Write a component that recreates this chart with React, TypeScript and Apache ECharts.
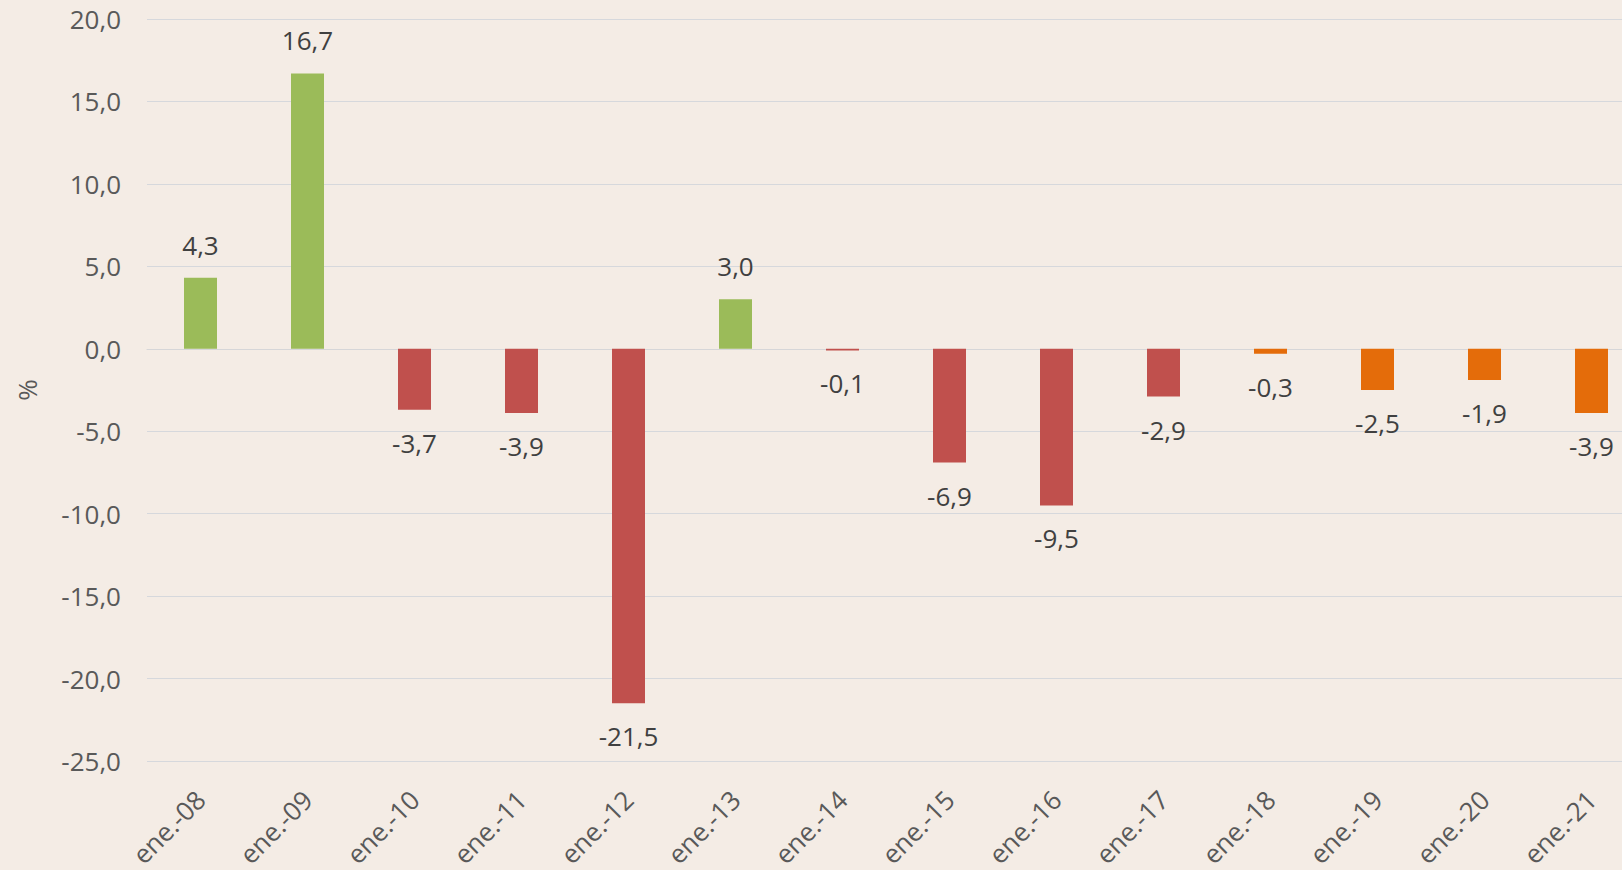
import React, { useEffect, useRef } from "react";
import * as echarts from "echarts";

const categories = ["ene.-08", "ene.-09", "ene.-10", "ene.-11", "ene.-12", "ene.-13", "ene.-14", "ene.-15", "ene.-16", "ene.-17", "ene.-18", "ene.-19", "ene.-20", "ene.-21"];
const values = [4.3, 16.7, -3.7, -3.9, -21.5, 3.0, -0.1, -6.9, -9.5, -2.9, -0.3, -2.5, -1.9, -3.9];
const colorGroups = ["g", "g", "r", "r", "r", "g", "r", "r", "r", "r", "o", "o", "o", "o"];
const yTicks = { min: -25, max: 20, interval: 5 };

const palette: Record<string, string> = { g: "#9BBB59", r: "#C0504D", o: "#E46C0A" };
const fmt = (v: number) => v.toFixed(1).replace(".", ",");

export default function App() {
  const ref = useRef<HTMLDivElement>(null);
  useEffect(() => {
    if (!ref.current) return;
    const chart = echarts.init(ref.current, null, { renderer: "svg" });
    const font = "'Open Sans', 'Noto Sans', sans-serif";
    chart.setOption({
      animation: false,
      backgroundColor: "#F4ECE5",
      grid: { left: 147, right: 5, top: 19, bottom: 107, containLabel: false },
      xAxis: {
        type: "category",
        data: categories,
        axisLine: { show: true, onZero: true, lineStyle: { color: "#D6D6D8", width: 1 } },
        axisTick: { show: false },
        axisLabel: {
          rotate: 45,
          margin: 34,
          color: "#595959",
          fontSize: 26,
          fontFamily: font,
          interval: 0,
        },
        position: "bottom",
      },
      yAxis: {
        type: "value",
        min: yTicks.min,
        max: yTicks.max,
        interval: yTicks.interval,
        name: "%",
        nameLocation: "middle",
        nameGap: 107,
        nameRotate: 90,
        nameTextStyle: { color: "#595959", fontSize: 26, fontFamily: font },
        axisLine: { show: false },
        axisTick: { show: false },
        splitLine: { show: true, lineStyle: { color: "#D6D8DC", width: 1 } },
        axisLabel: {
          margin: 26,
          color: "#595959",
          fontSize: 26,
          fontFamily: font,
          formatter: (v: number) => fmt(v),
        },
      },
      series: [
        {
          type: "bar",
          barWidth: 33,
          data: values.map((v, i) => ({
            value: v,
            itemStyle: { color: palette[colorGroups[i]] },
            label: { position: v >= 0 ? "top" : "bottom" },
          })),
          label: {
            show: true,
            distance: 20,
            color: "#404040",
            fontSize: 26,
            fontFamily: font,
            formatter: (p: any) => fmt(p.value),
          },
        },
      ],
    });
    return () => chart.dispose();
  }, []);
  return (
    <div style={{ position: "fixed", left: 0, top: 0, width: 1622, height: 870, overflow: "hidden", background: "#F4ECE5" }}>
      <div ref={ref} style={{ position: "absolute", left: 0, top: 0, width: 1650, height: 870 }} />
    </div>
  );
}
